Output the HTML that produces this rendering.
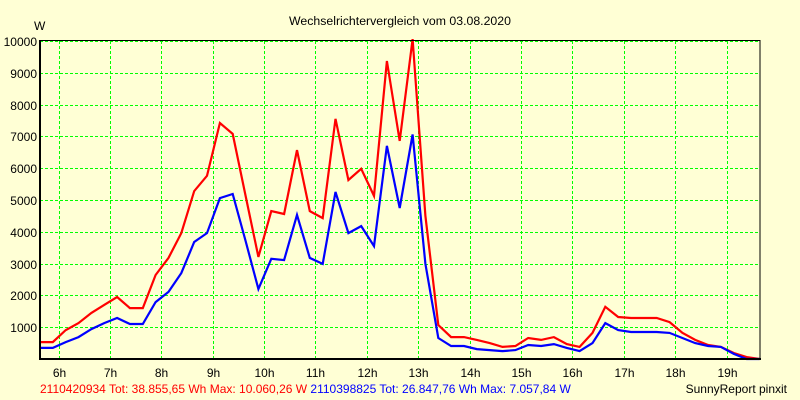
<!DOCTYPE html>
<html><head><meta charset="utf-8"><style>
html,body{margin:0;padding:0;background:#FFFFD5;}
svg{display:block;font-family:"Liberation Sans",sans-serif;}
</style></head><body>
<svg id="chart" width="800" height="400" viewBox="0 0 800 400" xmlns="http://www.w3.org/2000/svg">
<rect x="0" y="0" width="800" height="400" fill="#FFFFD5"/>
<text x="400" y="25" text-anchor="middle" font-size="12.3" fill="#000">Wechselrichtervergleich vom 03.08.2020</text>
<text x="34" y="30" font-size="12" fill="#000">W</text>
<g id="grid"></g>
<g id="ylabels"></g>
<g id="xlabels"></g>
<g id="series"></g>
<rect x="40" y="40.5" width="720" height="318.5" fill="none" stroke="#000" stroke-width="1"/>
<line x1="40" y1="40" x2="40" y2="360" stroke="#000" stroke-width="2"/>
<line x1="39" y1="359" x2="761" y2="359" stroke="#000" stroke-width="2"/>
<text x="40" y="393" font-size="12"><tspan fill="#FF0000">2110420934 Tot: 38.855,65 Wh Max: 10.060,26 W</tspan><tspan fill="#0000FF"> 2110398825 Tot: 26.847,76 Wh Max: 7.057,84 W</tspan></text>
<text x="787" y="393" text-anchor="end" font-size="12" fill="#000">SunnyReport pinxit</text>
</svg>
<script>
const times = [5.64,5.89,6.14,6.39,6.64,6.89,7.14,7.39,7.64,7.89,8.14,8.39,8.64,8.89,9.14,9.39,9.64,9.89,10.14,10.39,10.64,10.89,11.14,11.39,11.64,11.89,12.14,12.39,12.64,12.89,13.14,13.39,13.64,13.89,14.14,14.39,14.64,14.89,15.14,15.39,15.64,15.89,16.14,16.39,16.64,16.89,17.14,17.39,17.64,17.89,18.14,18.39,18.64,18.89,19.14,19.39,19.64];
const redValues = [530,530,910,1130,1450,1700,1950,1600,1600,2640,3180,3960,5280,5760,7420,7080,5130,3210,4650,4560,6570,4650,4430,7550,5630,5980,5130,9370,6860,10060,4500,1070,690,690,600,500,380,410,660,600,690,470,380,820,1640,1320,1290,1290,1290,1160,820,600,440,380,190,60,0];
const blueValues = [350,350,530,690,940,1130,1290,1100,1100,1790,2110,2700,3680,3960,5060,5190,3710,2200,3150,3110,4530,3180,2990,5250,3960,4180,3550,6700,4750,7060,2990,660,410,410,310,280,250,280,440,410,470,350,250,500,1130,910,850,850,850,820,660,500,410,380,160,0,0];
const yTicks = [1000,2000,3000,4000,5000,6000,7000,8000,9000,10000];
const xTickHours = [6,7,8,9,10,11,12,13,14,15,16,17,18,19];
const xTickLabels = ["6h","7h","8h","9h","10h","11h","12h","13h","14h","15h","16h","17h","18h","19h"];

const NS="http://www.w3.org/2000/svg";
const X0=40,X1=760,H0=5.64,H1=19.65,Y0=359,Y1=41,VMAX=10000;
function xScale(h){return X0+(h-H0)/(H1-H0)*(X1-X0);}
function yScale(v){return Y0-(v/VMAX)*(Y0-Y1);}
function mk(tag,attrs){const e=document.createElementNS(NS,tag);for(const k in attrs)e.setAttribute(k,attrs[k]);return e;}

const grid=document.getElementById('grid'),yl=document.getElementById('ylabels'),xl=document.getElementById('xlabels'),ser=document.getElementById('series');
yTicks.forEach(v=>{
  const y=Math.round(yScale(v))+0.5;
  const l=mk('line',{x1:X0,y1:y,x2:X1,y2:y,stroke:'#00FF00','stroke-width':1,'stroke-dasharray':'3,2'});
  
  
  grid.appendChild(l);
  const t=mk('text',{x:37,y:y+4.5,'text-anchor':'end','font-size':12,fill:'#000'});
  t.textContent=v;
  
  
  yl.appendChild(t);
});
xTickHours.forEach((h,i)=>{
  const x=Math.round(xScale(h))+0.5;
  const l=mk('line',{x1:x,y1:Y1,x2:x,y2:Y0,stroke:'#00FF00','stroke-width':1,'stroke-dasharray':'3,2'});
  
  
  grid.appendChild(l);
  const t=mk('text',{x:x,y:377,'text-anchor':'middle','font-size':12,fill:'#000'});
  t.textContent=xTickLabels[i];
  
  
  xl.appendChild(t);
});
function drawLine(vals,color,name){
  const pts=vals.map((v,i)=>xScale(times[i]).toFixed(1)+','+yScale(v).toFixed(1)).join(' ');
  const p=mk('polyline',{points:pts,fill:'none',stroke:color,'stroke-width':2.2,'stroke-linejoin':'miter'});
  
  
  ser.appendChild(p);
}
drawLine(redValues,'#FF0000','line-2110420934');
drawLine(blueValues,'#0000FF','line-2110398825');
</script>
</body></html>
